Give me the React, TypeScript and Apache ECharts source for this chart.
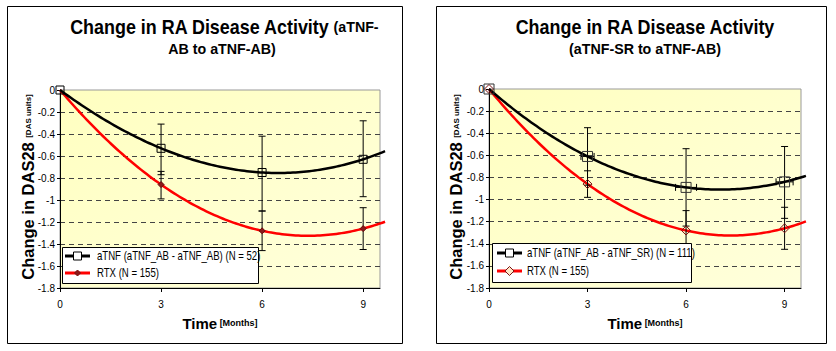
import React, { useEffect, useRef } from "react";
import * as echarts from "echarts";

// ---- data ----
const months = [0, 3, 6, 9];
const tickMonths = [0, 3, 6, 9];

const leftATNF = [0, -0.53, -0.75, -0.63];
const leftRTX = [0, -0.86, -1.28, -1.26];
const leftATNFHigh = [null, -0.31, -0.42, -0.28];
const leftATNFLow = [null, -0.77, -1.1, -0.97];
const leftRTXHigh = [null, -0.74, -1.1, -1.07];
const leftRTXLow = [null, -0.99, -1.46, -1.45];

const rightATNF = [0, -0.61, -0.89, -0.84];
const rightRTX = [0, -0.86, -1.28, -1.26];
const rightATNFHigh = [null, -0.35, -0.54, -0.52];
const rightATNFLow = [null, -0.87, -1.24, -1.17];
const rightATNFXErr = [null, 0.2, 0.32, 0.26];
const rightRTXHigh = [null, -0.74, -1.1, -1.07];
const rightRTXLow = [null, -0.98, -1.46, -1.45];

const leftTitle1 = "Change in RA Disease Activity";
const leftTitle1b = " (aTNF-";
const leftTitle2 = "AB to aTNF-AB)";
const rightTitle1 = "Change in RA Disease Activity";
const rightTitle2 = "(aTNF-SR to aTNF-AB)";
const leftLegend = ["aTNF (aTNF_AB - aTNF_AB) (N = 52)", "RTX (N = 155)"];
const rightLegend = ["aTNF (aTNF_AB - aTNF_SR) (N = 111)", "RTX (N = 155)"];
const trendEnd = 9.65;

const NARROW = "'Liberation Sans Narrow', 'Arial Narrow', 'Liberation Sans', Arial, sans-serif";
const SANS = "'Liberation Sans', Arial, sans-serif";

// polynomial trendline through the points (Excel-style polynomial fit of order n-1)
function poly(xs: number[], ys: number[], x: number) {
  let s = 0;
  for (let i = 0; i < xs.length; i++) {
    let t = ys[i];
    for (let j = 0; j < xs.length; j++) {
      if (j !== i) t *= (x - xs[j]) / (xs[i] - xs[j]);
    }
    s += t;
  }
  return s;
}

function trendSeries(grid: number, ys: number[], color: string) {
  return {
    type: "custom",
    xAxisIndex: grid,
    yAxisIndex: grid,
    clip: false,
    silent: true,
    z: 3,
    data: [[0, 0]],
    renderItem: (_p: any, api: any) => {
      const pts: number[][] = [];
      const n = 120;
      for (let k = 0; k <= n; k++) {
        const x = (trendEnd * k) / n;
        pts.push(api.coord([x, poly(months, ys, x)]));
      }
      return {
        type: "polyline",
        shape: { points: pts, smooth: 0 },
        style: { stroke: color, lineWidth: 2.5, fill: null },
      };
    },
  };
}

function errSeries(grid: number, hi: (number | null)[], lo: (number | null)[], mid: number[], xerr?: (number | null)[]) {
  const data: number[][] = [];
  months.forEach((m, i) => {
    if (hi[i] != null && lo[i] != null) data.push([m, hi[i] as number, lo[i] as number, mid[i], xerr && xerr[i] != null ? (xerr[i] as number) : 0]);
  });
  return {
    type: "custom",
    xAxisIndex: grid,
    yAxisIndex: grid,
    clip: false,
    silent: true,
    z: 4,
    data,
    renderItem: (_p: any, api: any) => {
      const x = api.value(0);
      const top = api.coord([x, api.value(1)]);
      const bot = api.coord([x, api.value(2)]);
      const cap = 3.5;
      const st = { stroke: "#000", lineWidth: 1 };
      const children: any[] = [
        { type: "line", shape: { x1: top[0], y1: top[1], x2: bot[0], y2: bot[1] }, style: st },
        { type: "line", shape: { x1: top[0] - cap, y1: top[1], x2: top[0] + cap, y2: top[1] }, style: st },
        { type: "line", shape: { x1: bot[0] - cap, y1: bot[1], x2: bot[0] + cap, y2: bot[1] }, style: st },
      ];
      const xe = api.value(4);
      if (xe) {
        const l = api.coord([x - xe, api.value(3)]);
        const r = api.coord([x + xe, api.value(3)]);
        children.push(
          { type: "line", shape: { x1: l[0], y1: l[1], x2: r[0], y2: r[1] }, style: st },
          { type: "line", shape: { x1: l[0], y1: l[1] - cap, x2: l[0], y2: l[1] + cap }, style: st },
          { type: "line", shape: { x1: r[0], y1: r[1] - cap, x2: r[0], y2: r[1] + cap }, style: st }
        );
      }
      return { type: "group", children };
    },
  };
}

function markerSeries(grid: number, ys: number[], symbol: string, size: number, fill: string, border: string) {
  return {
    type: "scatter",
    xAxisIndex: grid,
    yAxisIndex: grid,
    symbol,
    symbolSize: size,
    clip: false,
    silent: true,
    z: 5,
    itemStyle: { color: fill, borderColor: border, borderWidth: 1, opacity: 1 },
    data: months.map((m, i) => (i === 0 && symbol === "diamond" && grid === 0 ? null : [m, ys[i]])).filter((d) => d),
  };
}

function xAxisDef(grid: number) {
  return {
    type: "value",
    gridIndex: grid,
    min: 0,
    max: 9.5,
    interval: 3,
    axisLine: { show: true, onZero: false, lineStyle: { color: "#000", width: 1 } },
    axisTick: { show: true, length: 4, customValues: tickMonths, lineStyle: { color: "#000" } },
    axisLabel: { customValues: tickMonths, fontSize: 10, fontFamily: NARROW, color: "#000", margin: 11 },
    splitLine: { show: false },
  };
}

function yAxisDef(grid: number) {
  return {
    type: "value",
    gridIndex: grid,
    min: -1.8,
    max: 0,
    interval: 0.2,
    axisLine: { show: true, onZero: false, lineStyle: { color: "#000", width: 1 } },
    axisTick: { show: true, length: 3, lineStyle: { color: "#000" } },
    axisLabel: {
      fontSize: 10,
      fontFamily: NARROW,
      color: "#000",
      margin: 5,
      formatter: (v: number) => String(parseFloat(v.toFixed(1))),
    },
    splitLine: {
      show: true,
      showMinLine: false,
      showMaxLine: false,
      lineStyle: { color: "#444", type: [5, 4], width: 1 },
    },
  };
}

const plotBg = new echarts.graphic.LinearGradient(0, 0, 1, 1, [
  { offset: 0, color: "#FFFFC0" },
  { offset: 1, color: "#FFFFDC" },
]);

function legendGraphics(x: number, y: number, w: number, h: number, lx1: number, lx2: number, tx: number, r1: number, r2: number, labels: string[], hollowDiamond: boolean) {
  const mx = (lx1 + lx2) / 2;
  const ds = hollowDiamond ? 4.5 : 3;
  const ts = { fontSize: 12, fontFamily: SANS, fill: "#000", verticalAlign: "middle", align: "left" };
  return [
    { type: "rect", shape: { x, y, width: w, height: h }, style: { fill: "#fff", stroke: "#000", lineWidth: 1 }, z: 100 },
    { type: "line", shape: { x1: lx1, y1: r1, x2: lx2, y2: r1 }, style: { stroke: "#000", lineWidth: 3 }, z: 101 },
    { type: "rect", shape: { x: mx - 4, y: r1 - 4, width: 8, height: 8 }, style: { fill: "#fff", stroke: "#000", lineWidth: 1 }, z: 102 },
    { type: "text", x: tx, y: r1, scaleX: 0.8, style: { ...ts, text: labels[0] }, z: 102 },
    { type: "line", shape: { x1: lx1, y1: r2, x2: lx2, y2: r2 }, style: { stroke: "#ff0000", lineWidth: 3 }, z: 101 },
    {
      type: "polygon",
      shape: { points: [[mx, r2 - ds], [mx + ds, r2], [mx, r2 + ds], [mx - ds, r2]] },
      style: { fill: hollowDiamond ? "#FFE8C8" : "#8a1a1a", stroke: "#7a1010", lineWidth: 1 },
      z: 102,
    },
    { type: "text", x: tx, y: r2, scaleX: 0.8, style: { ...ts, text: labels[1] }, z: 102 },
  ];
}

function titleText(x: number, y: number, text: string, rich: any, sx = 1) {
  return { type: "text", x, y, scaleX: sx, style: { text, rich, align: "center", verticalAlign: "middle", fill: "#000" }, z: 10 };
}

const richTitle = {
  a: { fontSize: 19.5, fontWeight: "bold", fontFamily: SANS, fill: "#000" },
  b: { fontSize: 15.5, fontWeight: "bold", fontFamily: SANS, fill: "#000" },
};
const richY = {
  a: { fontSize: 16.5, fontWeight: "bold", fontFamily: SANS, fill: "#000" },
  b: { fontSize: 8, fontWeight: "bold", fontFamily: SANS, fill: "#000" },
};
const richX = {
  a: { fontSize: 15, fontWeight: "bold", fontFamily: SANS, fill: "#000" },
  b: { fontSize: 9, fontWeight: "bold", fontFamily: SANS, fill: "#000" },
};

export default function App() {
  const ref = useRef<HTMLDivElement>(null);
  useEffect(() => {
    document.body.style.margin = "0";
    const chart = echarts.init(ref.current!, null, { renderer: "svg" });
    const option: any = {
      animation: false,
      backgroundColor: "#fff",
      grid: [
        { left: 60, top: 90, width: 320, height: 198, show: true, backgroundColor: plotBg, borderColor: "#999", borderWidth: 1, outerBoundsMode: "none" },
        { left: 489, top: 89, width: 312, height: 199, show: true, backgroundColor: plotBg, borderColor: "#999", borderWidth: 1, outerBoundsMode: "none" },
      ],
      xAxis: [xAxisDef(0), xAxisDef(1)],
      yAxis: [yAxisDef(0), yAxisDef(1)],
      series: [
        trendSeries(0, leftRTX, "#ff0000"),
        trendSeries(0, leftATNF, "#000"),
        errSeries(0, leftATNFHigh, leftATNFLow, leftATNF),
        errSeries(0, leftRTXHigh, leftRTXLow, leftRTX),
        markerSeries(0, leftRTX, "diamond", 6, "#8a1a1a", "#6a0a0a"),
        markerSeries(0, leftATNF, "rect", 8, "rgba(0,0,0,0)", "#000"),
        trendSeries(1, rightRTX, "#ff0000"),
        trendSeries(1, rightATNF, "#000"),
        errSeries(1, rightATNFHigh, rightATNFLow, rightATNF, rightATNFXErr),
        errSeries(1, rightRTXHigh, rightRTXLow, rightRTX),
        markerSeries(1, rightRTX, "diamond", 9, "rgba(0,0,0,0)", "#7a1010"),
        markerSeries(1, rightATNF, "rect", 10, "rgba(0,0,0,0)", "#333"),
      ],
      graphic: [
        { type: "rect", shape: { x: 7.5, y: 6.5, width: 395, height: 337 }, style: { fill: "none", stroke: "#000", lineWidth: 1 }, z: 1 },
        { type: "rect", shape: { x: 436.5, y: 6.5, width: 390, height: 337 }, style: { fill: "none", stroke: "#000", lineWidth: 1 }, z: 1 },
        titleText(224, 27, `{a|${leftTitle1}}{b|${leftTitle1b}}`, richTitle, 0.92),
        titleText(222, 49, `{b|${leftTitle2}}`, richTitle, 0.92),
        titleText(645, 27, `{a|${rightTitle1}}`, richTitle, 0.92),
        titleText(645, 49, `{b|${rightTitle2}}`, richTitle, 0.92),
        { type: "text", x: 28, y: 187, rotation: Math.PI / 2, style: { text: "{a|Change in DAS28}{b|  [DAS units]}", rich: richY, align: "center", verticalAlign: "middle" }, z: 10 },
        { type: "text", x: 456, y: 187, rotation: Math.PI / 2, style: { text: "{a|Change in DAS28}{b|  [DAS units]}", rich: richY, align: "center", verticalAlign: "middle" }, z: 10 },
        titleText(220, 323, "{a|Time}{b| [Months]}", richX),
        titleText(645, 323, "{a|Time}{b| [Months]}", richX),
        ...legendGraphics(62.5, 247.5, 196, 36, 65, 90, 97, 256, 273, leftLegend, false),
        ...legendGraphics(492.5, 243.5, 199, 39, 497, 522, 527, 253, 271, rightLegend, true),
      ],
    };
    chart.setOption(option);
    return () => chart.dispose();
  }, []);
  return <div ref={ref} style={{ width: 836, height: 351 }} />;
}
